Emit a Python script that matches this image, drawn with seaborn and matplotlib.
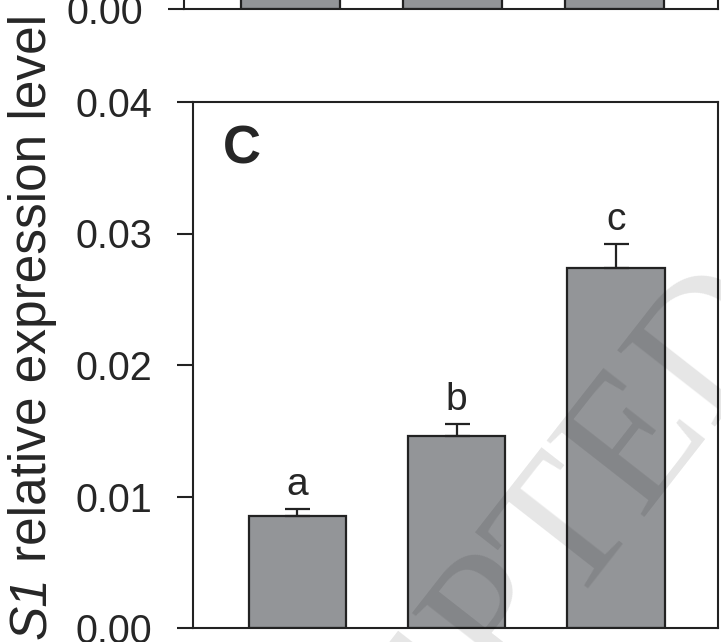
import numpy as np
import pandas as pd
import seaborn as sns
import matplotlib.pyplot as plt

# Panel C data
groups = ["G1", "G2", "G3"]
expr_values = [0.00852, 0.01462, 0.02735]
expr_err = [0.00053, 0.00090, 0.00183]
sig_letters = ["a", "b", "c"]

# Panel above (only the bar bottoms are visible)
top_values = [0.020, 0.024, 0.018]

y_ticks = [0.00, 0.01, 0.02, 0.03, 0.04]

sns.set_style("ticks")
plt.rcParams["font.family"] = ["Liberation Sans", "DejaVu Sans"]

bar_color = "#939598"
edge_color = "#222222"
W, H = 721, 642

fig = plt.figure(figsize=(W / 100, H / 100), dpi=100)
ax_top = fig.add_axes([184 / W, (H - 9) / H, 534 / W, 526 / H])
ax = fig.add_axes([193 / W, 14 / H, 525 / W, 526 / H])

df = pd.DataFrame({"group": groups, "value": expr_values})
df_top = pd.DataFrame({"group": groups, "value": top_values})

for a, d in [(ax_top, df_top), (ax, df)]:
    sns.barplot(data=d, x="group", y="value", color=bar_color, saturation=1,
                edgecolor=edge_color, linewidth=1.6, width=0.61, ax=a)
    a.set_xlim(-0.656, 2.64)
    a.set_ylim(0, 0.04)
    a.set_yticks(y_ticks)
    a.set_yticklabels([f"{t:.2f}" for t in y_ticks])
    a.set_xticks([])
    a.set_xlabel("")
    a.set_ylabel("")
    for s in a.spines.values():
        s.set_linewidth(1.5)
        s.set_color(edge_color)
    a.tick_params(axis="y", direction="out", length=11.5, width=1.5,
                  labelsize=28.5, pad=18, color=edge_color)

# upper error bars only
ax.errorbar(range(len(groups)), expr_values,
            yerr=[np.zeros(len(groups)), expr_err], fmt="none",
            ecolor=edge_color, elinewidth=1.6, capsize=9, capthick=1.6, zorder=3)

for i, (v, e, lab) in enumerate(zip(expr_values, expr_err, sig_letters)):
    ax.text(i, v + e + 0.00105, lab, ha="center", va="baseline", fontsize=28)

ax.text(0.056, 0.884, "C", transform=ax.transAxes, fontsize=38,
        fontweight="bold", ha="left", va="baseline")

# y label: plain part, then the italic gene name below it (runs off the edge)
ylab = fig.text(33 / W, 1 - 14 / H, "relative expression level",
                rotation=90, ha="center", va="top", fontsize=37)
fig.canvas.draw()
bb = ylab.get_window_extent()
fig.text(33 / W, (bb.y0 - 14) / H, "S1", rotation=90, ha="center", va="top",
         fontsize=37, fontstyle="italic")

# faint journal watermark
fig.text(795 / W, (H - 322) / H, "ACCEPTED", rotation=52, rotation_mode="anchor",
         ha="right", va="baseline", fontsize=135, family="Liberation Serif",
         color="black", alpha=0.1)

fig.savefig("out.png", dpi=100)
